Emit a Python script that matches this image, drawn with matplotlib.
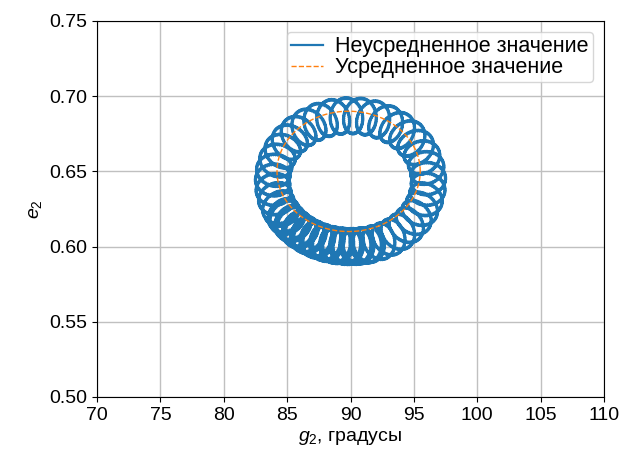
import numpy as np
import matplotlib.pyplot as plt

plt.rcParams['font.family'] = ['Liberation Sans', 'DejaVu Sans']
plt.rcParams['mathtext.fontset'] = 'custom'
plt.rcParams['mathtext.it'] = 'Liberation Sans:italic'
plt.rcParams['mathtext.rm'] = 'Liberation Sans'

# averaged orbit (dashed): centre and semi-axes, g2 in degrees
g_mean_c = 89.85
e_mean_c = 0.650
g_mean_a = 5.65
e_mean_b = 0.040

# centre line of the loops of the full solution
g_loop_c = 90.0
e_loop_c = 0.6435
g_loop_a = 6.15
e_loop_b = 0.0435

# short-period loops: radial and along-track half-sizes
g_rad, e_rad = 1.35, 0.0118
g_tan, e_tan = 1.0, 0.0088
loops_per_rev = 40.3
revs = 1.25
start_deg = 200.0
# slow drift is slowest near this angle, loops crowd there
slow_deg = 250.0
slow_k = 0.15

# fine ripple that thickens the line
ripple_n = 2600
g_rip, e_rip = 0.05, 0.0006

xticks = [70, 75, 80, 85, 90, 95, 100, 105, 110]
yticks = [0.50, 0.55, 0.60, 0.65, 0.70, 0.75]

s = np.linspace(0, 1, 60000)
t = np.deg2rad(start_deg) + 2 * np.pi * revs * s
th = t - slow_k * np.sin(t - np.deg2rad(slow_deg))
phi = 2 * np.pi * loops_per_rev * revs * s
g_full = (g_loop_c + (g_loop_a + g_rad * np.cos(phi)) * np.cos(th)
          - g_tan * np.sin(phi) * np.sin(th)
          + g_rip * np.cos(ripple_n * 2 * np.pi * s))
e_full = (e_loop_c + (e_loop_b + e_rad * np.cos(phi)) * np.sin(th)
          + e_tan * np.sin(phi) * np.cos(th)
          + e_rip * np.sin(ripple_n * 2 * np.pi * s))

tt = np.linspace(0, 2 * np.pi, 400)
g_mean = g_mean_c + g_mean_a * np.cos(tt)
e_mean = e_mean_c + e_mean_b * np.sin(tt)

fig = plt.figure(figsize=(6.2, 4.54), dpi=100)
ax = fig.add_axes([0.1565, 0.1256, 0.8177, 0.8282])
ax.plot(g_full, e_full, color='#1f77b4', lw=1.6, label='Неусредненное значение')
ax.plot(g_mean, e_mean, '--', color='#ff7f0e', lw=1.0, label='Усредненное значение')
ax.set_xlim(70, 110)
ax.set_ylim(0.50, 0.75)
ax.set_xticks(xticks)
ax.set_yticks(yticks)
ax.tick_params(labelsize=14)
ax.grid(True, color='#c0c0c0', lw=1.0)
ax.set_xlabel('$g_2$, градусы', fontsize=14)
ax.set_ylabel('$e_2$', fontsize=14)
ax.legend(loc='upper right', fontsize=15.5, labelspacing=0.0, borderpad=0.2,
          handlelength=1.45, handletextpad=0.6)
fig.savefig('out.png', dpi=100)
